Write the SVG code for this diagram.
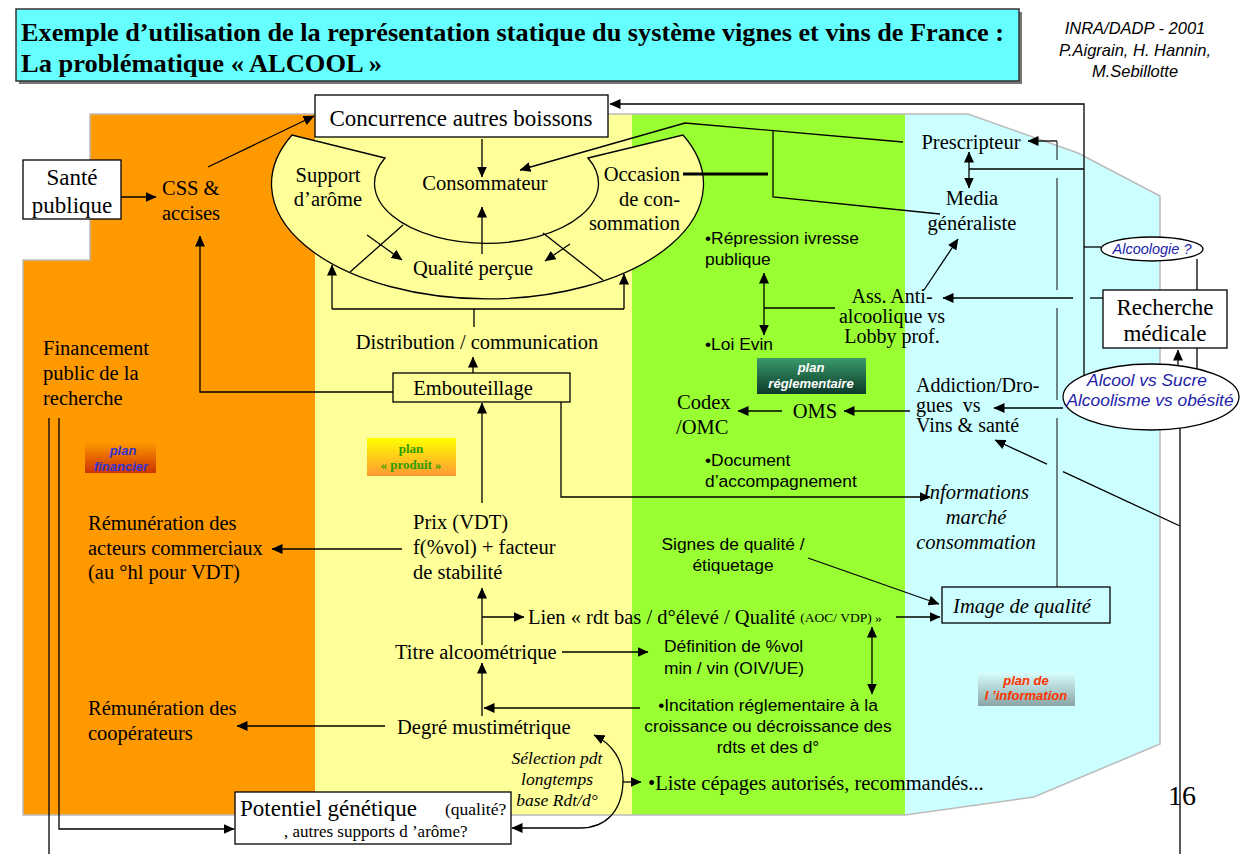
<svg xmlns="http://www.w3.org/2000/svg" width="1253" height="854" viewBox="0 0 1253 854">
<defs>
<style>
text{dominant-baseline:central}
.s{font-family:"Liberation Serif","Times New Roman",serif;font-size:20.5px;fill:#000}
.si{font-family:"Liberation Serif","Times New Roman",serif;font-size:20.5px;font-style:italic;fill:#000}
.a{font-family:"Liberation Sans",Arial,sans-serif;font-size:17.4px;fill:#000}
.ai{font-family:"Liberation Sans",Arial,sans-serif;font-style:italic;fill:#2222AA}
.hd{font-family:"Liberation Sans",Arial,sans-serif;font-style:italic;font-size:16.5px;fill:#000;text-anchor:middle}
.m{text-anchor:middle}
.e{text-anchor:end}
.ln{stroke:#000;stroke-width:1.3;fill:none}
.ar{marker-end:url(#ah)}
.da{marker-start:url(#ah);marker-end:url(#ah)}
.gr{stroke:#566;stroke-width:1.6;fill:none}
.box{fill:#fff;stroke:#000;stroke-width:1.3}
.lbl{font-family:"Liberation Sans",Arial,sans-serif;font-size:13px;font-weight:bold;font-style:italic;text-anchor:middle}
.band{stroke:none}
.big{font-size:23px}
.sm{font-size:17.5px}
</style>
<marker id="ah" viewBox="0 0 11 10" refX="10.5" refY="5" markerWidth="11" markerHeight="10" markerUnits="userSpaceOnUse" orient="auto-start-reverse"><path d="M0,0 L11,5 L0,10 z" fill="#000"/></marker>
<linearGradient id="gProd" x1="0" y1="0" x2="0" y2="1"><stop offset="0" stop-color="#FFFF00"/><stop offset="1" stop-color="#FF9933"/></linearGradient>
<linearGradient id="gFin" x1="0" y1="0" x2="0" y2="1"><stop offset="0" stop-color="#FF9900"/><stop offset="1" stop-color="#CC3300"/></linearGradient>
<linearGradient id="gReg" x1="0" y1="0" x2="0" y2="1"><stop offset="0" stop-color="#3A9A6A"/><stop offset="1" stop-color="#0B3A2A"/></linearGradient>
<linearGradient id="gInfo" x1="0" y1="0" x2="0" y2="1"><stop offset="0" stop-color="#D8FFFF"/><stop offset="1" stop-color="#8AA5A5"/></linearGradient>
</defs>
<rect width="1253" height="854" fill="#fff"/>
<g id="bands">
<polygon class="band" fill="#FF9900" points="90,114 315,114 315,815 23,815 23,260 90,260"/>
<polygon class="band" fill="#FFFF99" points="315,114 632,114 632,815 315,815"/>
<polygon class="band" fill="#99FF33" points="632,114 905,114 905,815 632,815"/>
<polygon class="band" fill="#CCFFFF" points="905,114 968,114 1078,153 1160,196 1160,744 1034,797 905,815"/>
<polygon fill="none" stroke="#bbb" stroke-width="1.5" points="90,114 968,114 1078,153 1160,196 1160,744 1034,797 905,815 23,815 23,260 90,260"/>
</g>
<g id="title">
<rect x="19" y="12" width="1003" height="72" fill="#777"/>
<rect x="16" y="9" width="1003" height="72" fill="#66FFFF" stroke="#333" stroke-width="1.5"/>
<text x="21" y="32" font-family="Liberation Serif,Times New Roman,serif" font-weight="bold" font-size="25" textLength="983" lengthAdjust="spacingAndGlyphs">Exemple d’utilisation de la représentation statique du système vignes et vins de France :</text>
<text x="21" y="63" font-family="Liberation Serif,Times New Roman,serif" font-weight="bold" font-size="25" textLength="361" lengthAdjust="spacingAndGlyphs">La problématique « ALCOOL »</text>
</g>
<g id="header">
<text class="hd" x="1135" y="28">INRA/DADP - 2001</text>
<text class="hd" x="1135" y="50">P.Aigrain, H. Hannin,</text>
<text class="hd" x="1135" y="71">M.Sebillotte</text>
</g>
<g id="bowl">
<path d="M292,135 A216,115 0 1,0 683,135 L588,158 A112,60 0 1,1 385,158 Z" fill="#FFFF99" stroke="#000" stroke-width="1.3"/>
<path class="ln" d="M350,272 L403,225 M543,233 L603,280"/>
<text class="s m" x="328" y="175">Support</text>
<text class="s m" x="328" y="199">d’arôme</text>
<text class="s m" x="485" y="183">Consommateur</text>
<text class="s e" x="680" y="174">Occasion</text>
<text class="s e" x="680" y="199">de con-</text>
<text class="s e" x="680" y="223">sommation</text>
<text class="s m" x="473" y="268">Qualité perçue</text>
</g>
<g id="connectors">
<path class="ln ar" d="M121,197 L156,197"/>
<path class="ln ar" d="M208,167 L314,116"/>
<path class="ln ar" d="M393,392 L200,392 L200,236"/>
<path class="ln ar" d="M482,139 L482,177"/>
<path class="ln ar" d="M482,254 L482,207"/>
<path class="ln ar" d="M367,235 L402,260"/>
<path class="ln ar" d="M570,244 L545,261"/>
<path class="ln" d="M474,327 L474,309 M332,309 L624,309"/>
<path class="ln ar" d="M332,309 L332,265"/>
<path class="ln ar" d="M624,309 L624,274"/>
<path class="ln ar" d="M473,373 L473,357"/>
<path class="ln ar" d="M561,402 L561,497 L930,497"/>
<path class="ln ar" d="M482,503 L482,403"/>
<path class="ln ar" d="M402,549 L272,549"/>
<path class="ln ar" d="M482,645 L482,588"/>
<path class="ln ar" d="M482,617 L524,617"/>
<path class="ln ar" d="M896,617 L940,617"/>
<path class="ln ar" d="M562,652 L648,652"/>
<path class="ln ar" d="M482,716 L482,663"/>
<path class="ln ar" d="M640,708 L484,708"/>
<path class="ln ar" d="M385,726 L237,726"/>
<path class="ln da" d="M872,627 L872,694"/>
<path class="ln da" d="M594,735 C612,744 624,760 623,782 C622,812 605,828 580,828 L512,828"/>
<path class="ln ar" d="M623,782 L641,782"/>
<path class="ln" d="M49,418 L49,854"/>
<path class="ln ar" d="M59,418 L59,829 L234,829"/>
<path class="ln ar" d="M808,558 L939,604"/>
<path class="ln da" d="M764,273 L764,335"/>
<path class="ln" d="M764,308 L835,308"/>
<path class="ln ar" d="M924,290 L958,239"/>
<path class="ln ar" d="M782,411 L738,411"/>
<path class="ln ar" d="M910,411 L844,411"/>
<path class="ln ar" d="M903,142 L685,123 L520,170"/>
<path class="ln" d="M773,131 L773,197 L940,214"/>
<path d="M683,174 L768,174" stroke="#000" stroke-width="3"/>
<path class="ln da" d="M969,152 L969,188"/>
<path class="ln" d="M969,169 L1084,169"/>
<path class="ln ar" d="M1084,376 L1084,104 L610,104"/>
<path class="ln" d="M1084,247 L1101,247"/>
<path class="ln" d="M1197,259 L1197,369"/>
<path class="ln" d="M1103,298 L1090,298"/>
<path class="ln ar" d="M1073,298 L943,298"/>
<path class="gr" d="M1057,141 L1057,160 M1057,178 L1057,290 M1057,308 L1057,400 M1057,418 L1057,587"/>
<path class="ln ar" d="M1057,141 L1028,141"/>
<path class="ln ar" d="M1178,367 L1178,350"/>
<path class="ln ar" d="M1063,408 L994,408"/>
<path class="ln" d="M1180,428 L1180,854"/>
<path class="ln" d="M1180,526 L1063,471.6"/>
<path class="ln ar" d="M1047,464.2 L995,440"/>
</g>
<g id="concurrence">
<rect class="box" x="315" y="95" width="293" height="42"/>
<text class="s m big" x="461" y="118">Concurrence autres boissons</text>
</g>
<g id="sante">
<rect class="box" x="23" y="160" width="98" height="59"/>
<text class="s m big" x="72" y="177">Santé</text>
<text class="s m big" x="72" y="205">publique</text>
</g>
<g id="css">
<text class="s" x="162" y="188">CSS &amp;</text>
<text class="s" x="162" y="213">accises</text>
</g>
<g id="distribution"><text class="s m" x="477" y="342">Distribution / communication</text></g>
<g id="embouteillage">
<rect x="393" y="373" width="177" height="29" fill="#FFFF99" stroke="#000" stroke-width="1.3"/>
<text class="s m" x="473" y="388">Embouteillage</text>
</g>
<g id="plan-produit">
<rect x="367" y="438" width="89" height="38" fill="url(#gProd)"/>
<text x="411" y="448" font-family="Liberation Serif,serif" font-weight="bold" font-size="13" fill="#2E9E00" text-anchor="middle">plan</text>
<text x="411" y="464" font-family="Liberation Serif,serif" font-weight="bold" font-size="13" fill="#2E9E00" text-anchor="middle">« produit »</text>
</g>
<g id="prix">
<text class="s" x="413" y="522">Prix (VDT)</text>
<text class="s" x="413" y="547">f(%vol) + facteur</text>
<text class="s" x="413" y="572">de stabilité</text>
</g>
<g id="remun-commerciaux">
<text class="s" x="88" y="523">Rémunération des</text>
<text class="s" x="88" y="548">acteurs commerciaux</text>
<text class="s" x="88" y="572">(au °hl pour VDT)</text>
</g>
<g id="financement">
<text class="s" x="43" y="348">Financement</text>
<text class="s" x="43" y="373">public de la</text>
<text class="s" x="43" y="398">recherche</text>
</g>
<g id="plan-financier">
<rect x="85" y="442" width="71" height="31" fill="url(#gFin)"/>
<text class="lbl" x="123" y="450" fill="#3333CC">plan</text>
<text class="lbl" x="121" y="466" fill="#3333CC">financier</text>
</g>
<g id="remun-coop">
<text class="s" x="88" y="708">Rémunération des</text>
<text class="s" x="88" y="733">coopérateurs</text>
</g>
<g id="titre"><text class="s" x="395" y="652">Titre alcoométrique</text></g>
<g id="degre"><text class="s" x="397" y="727">Degré mustimétrique</text></g>
<g id="lien"><text class="s" x="528" y="617">Lien « rdt bas / d°élevé / Qualité <tspan style="font-size:13.5px">(AOC/ VDP) »</tspan></text></g>
<g id="selection">
<text class="si m sm" x="557" y="758">Sélection pdt</text>
<text class="si m sm" x="557" y="779">longtemps</text>
<text class="si m sm" x="557" y="800">base Rdt/d°</text>
</g>
<g id="potentiel">
<rect class="box" x="235" y="792" width="276" height="52"/>
<text class="s big" x="240" y="808">Potentiel génétique</text>
<text class="s sm" x="445" y="809">(qualité?</text>
<text class="s" x="284" y="831" style="font-size:17px">, autres supports d ’arôme?</text>
</g>
<g id="liste"><text class="s" x="648" y="783">•Liste cépages autorisés, recommandés...</text></g>
<g id="repression">
<text class="a" x="705" y="238">•Répression ivresse</text>
<text class="a" x="705" y="259">publique</text>
</g>
<g id="loi-evin"><text class="a" x="705" y="344">•Loi Evin</text></g>
<g id="document">
<text class="a" x="705" y="460">•Document</text>
<text class="a" x="705" y="481">d’accompagnement</text>
</g>
<g id="ass-anti">
<text class="s m" x="892" y="296" style="font-size:20px">Ass. Anti-</text>
<text class="s m" x="892" y="316" style="font-size:20px">alcoolique vs</text>
<text class="s m" x="892" y="336" style="font-size:20px">Lobby prof.</text>
</g>
<g id="plan-reglementaire">
<rect x="757" y="358" width="109" height="36" fill="url(#gReg)"/>
<text class="lbl" x="811" y="367" fill="#fff">plan</text>
<text class="lbl" x="811" y="383" fill="#fff">réglementaire</text>
</g>
<g id="codex">
<text class="s" x="677" y="402">Codex</text>
<text class="s" x="676" y="427">/OMC</text>
</g>
<g id="oms"><text class="s m" x="815" y="411">OMS</text></g>
<g id="definition">
<text class="a" x="664" y="646">Définition de %vol</text>
<text class="a" x="664" y="668">min / vin (OIV/UE)</text>
</g>
<g id="incitation">
<text class="a m" x="768" y="705">•Incitation réglementaire à la</text>
<text class="a m" x="768" y="726">croissance ou décroissance des</text>
<text class="a m" x="768" y="747">rdts et des d°</text>
</g>
<g id="signes">
<text class="a m" x="733" y="544">Signes de qualité /</text>
<text class="a m" x="733" y="565">étiquetage</text>
</g>
<g id="prescripteur"><text class="s m" x="971" y="142">Prescripteur</text></g>
<g id="media">
<text class="s m" x="972" y="198">Media</text>
<text class="s m" x="972" y="223">généraliste</text>
</g>
<g id="addiction">
<text class="s" x="916" y="385" style="font-size:20px">Addiction/Dro-</text>
<text class="s" x="916" y="405" style="font-size:20px" xml:space="preserve">gues  vs</text>
<text class="s" x="916" y="425" style="font-size:20px">Vins &amp; santé</text>
</g>
<g id="informations">
<text class="si m" x="976" y="492">Informations</text>
<text class="si m" x="976" y="517">marché</text>
<text class="si m" x="976" y="542">consommation</text>
</g>
<g id="image-qualite">
<rect x="942" y="587" width="168" height="36" fill="#CCFFFF" stroke="#000" stroke-width="1.3"/>
<text class="si m" x="1022" y="606">Image de qualité</text>
</g>
<g id="plan-information">
<rect x="978" y="672" width="97" height="34" fill="url(#gInfo)"/>
<text class="lbl" x="1026" y="680" fill="#FF3300">plan de</text>
<text class="lbl" x="1026" y="695" fill="#FF3300">l ’information</text>
</g>
<g id="alcoologie">
<ellipse cx="1152" cy="249" rx="51" ry="12" fill="#fff" stroke="#000" stroke-width="1.3"/>
<text class="ai m" x="1152" y="249" font-size="14.5">Alcoologie ?</text>
</g>
<g id="recherche">
<rect class="box" x="1103" y="290" width="124" height="58"/>
<text class="s m big" x="1165" y="307">Recherche</text>
<text class="s m big" x="1165" y="333">médicale</text>
</g>
<g id="alcool-sucre">
<ellipse cx="1151" cy="397" rx="88" ry="33" fill="#fff" stroke="#000" stroke-width="1.3"/>
<text class="ai m" x="1147" y="380" font-size="17.4">Alcool vs Sucre</text>
<text class="ai m" x="1150" y="400" font-size="17.4">Alcoolisme vs obésité</text>
</g>
<g id="page"><text class="s" x="1168" y="795" style="font-size:28px">16</text></g>
</svg>
